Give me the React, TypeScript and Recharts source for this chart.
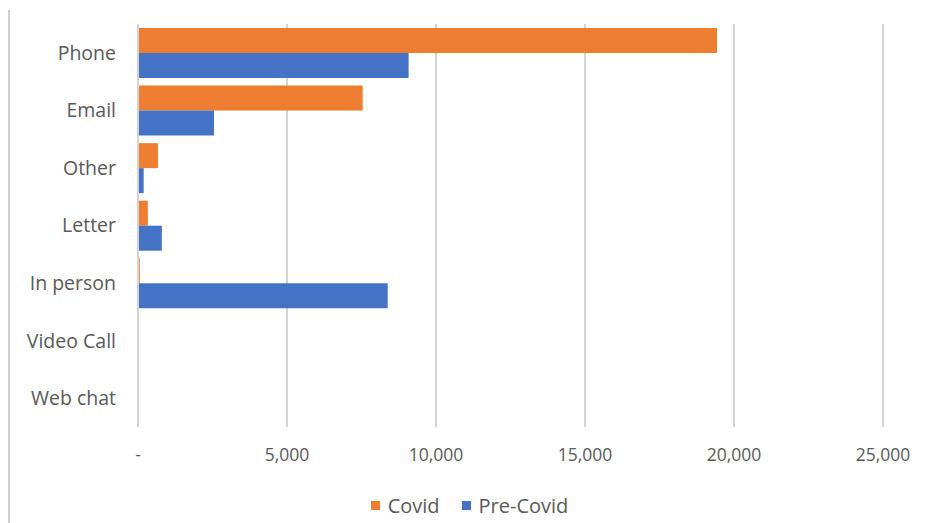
import { BarChart, Bar, XAxis, YAxis, CartesianGrid } from "recharts";

const channels = ["Phone", "Email", "Other", "Letter", "In person", "Video Call", "Web chat"];
const covid = [19430, 7540, 670, 330, 60, 0, 0];
const preCovid = [9080, 2550, 190, 800, 8380, 0, 0];
const xTicks = [0, 5000, 10000, 15000, 20000, 25000];

const rows = channels.map((name, i) => ({ name, covid: covid[i], preCovid: preCovid[i] }));

const ORANGE = "#ED7D31";
const BLUE = "#4472C4";
const GRID = "#d4d4d4";
const TEXT = "#595959";
const FONT = "'Open Sans', sans-serif";

const fmt = (v: number) => (v === 0 ? "-" : v.toLocaleString("en-US"));

export default function App() {
  return (
    <div style={{ position: "fixed", left: 0, top: 0, width: 939, height: 523, background: "#fff", fontFamily: FONT }}>
      <div style={{ position: "absolute", left: 8, top: 10, width: 2, height: 513, background: "#d0d0d0" }} />
      <BarChart
        width={939}
        height={523}
        data={rows}
        layout="vertical"
        margin={{ top: 24, right: 56, bottom: 0, left: 0 }}
        barGap={0}
        barCategoryGap={4}
      >
        <CartesianGrid horizontal={false} stroke={GRID} strokeWidth={2} />
        <XAxis
          type="number"
          domain={[0, 25000]}
          ticks={xTicks}
          tickFormatter={fmt}
          axisLine={false}
          tickLine={false}
          height={96}
          tickMargin={16}
          tick={{ fill: TEXT, fontSize: 17.5, fontFamily: FONT }}
        />
        <YAxis
          type="category"
          dataKey="name"
          width={138}
          axisLine={{ stroke: GRID, strokeWidth: 2 }}
          tickLine={false}
          tickMargin={16}
          tick={{ fill: TEXT, fontSize: 19.5, fontFamily: FONT }}
        />
        <Bar dataKey="covid" name="Covid" fill={ORANGE} barSize={25} isAnimationActive={false} />
        <Bar dataKey="preCovid" name="Pre-Covid" fill={BLUE} barSize={25} isAnimationActive={false} />
      </BarChart>
      {/* legend row under the axis */}
      <div
        style={{
          position: "absolute",
          top: 492,
          left: 0,
          width: 939,
          display: "flex",
          justifyContent: "center",
          alignItems: "center",
          gap: 8,
          color: TEXT,
          fontSize: 20,
        }}
      >
        <span style={{ display: "inline-block", width: 9, height: 9, background: ORANGE }} />
        <span style={{ marginRight: 14 }}>Covid</span>
        <span style={{ display: "inline-block", width: 9, height: 9, background: BLUE }} />
        <span>Pre-Covid</span>
      </div>
    </div>
  );
}
